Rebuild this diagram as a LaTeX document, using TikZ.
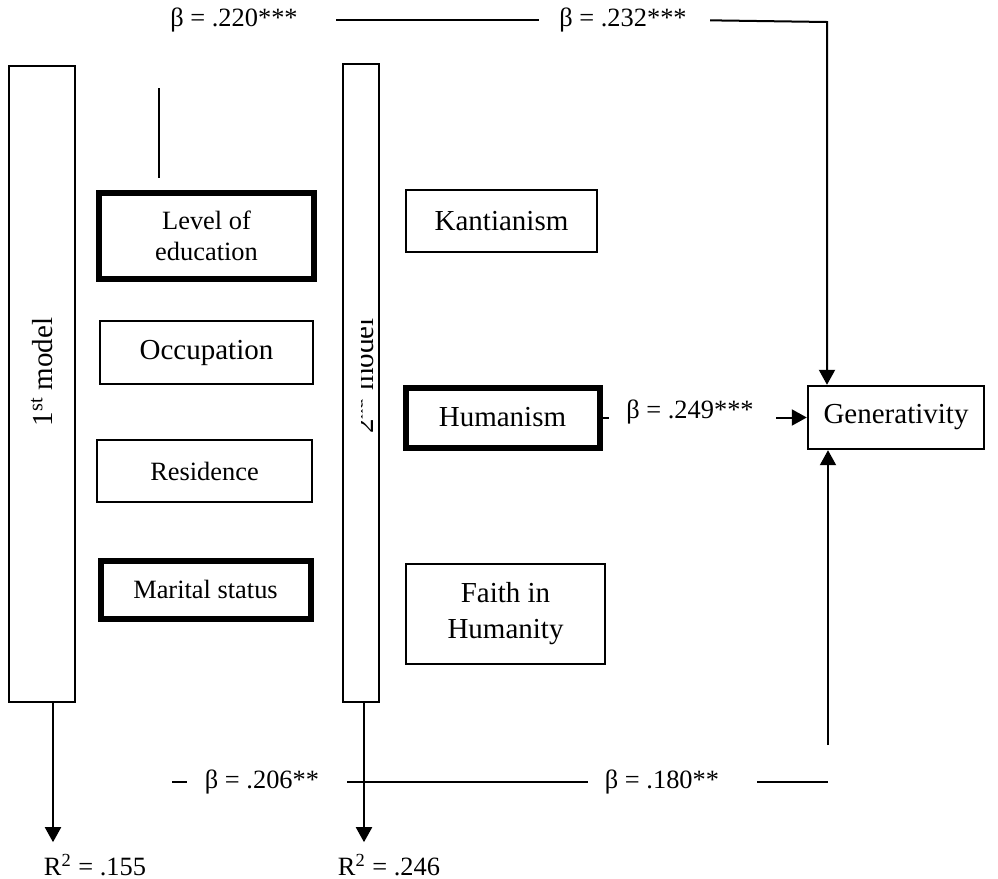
\documentclass[tikz,border=0pt]{standalone}
\usepackage{fontspec}
\setmainfont{Liberation Serif}
\usetikzlibrary{arrows.meta}

\newcommand{\bigtxt}{\fontsize{14.5}{18}\selectfont}
\newcommand{\smalltxt}{\fontsize{13.2}{15.5}\selectfont}

\begin{document}
\begin{tikzpicture}[x=0.5pt, y=-0.5pt,
    every node/.style={inner sep=0pt, font=\bigtxt},
    var/.style={draw, line width=1.2pt, align=center},
    heavy/.style={line width=3pt},
    small/.style={font=\smalltxt},
    link/.style={line width=1pt},
    tip/.style={-{Triangle[width=8pt, length=7.5pt]}}]
    \useasboundingbox (0, 0) rectangle (998, 879);

    \node[var, minimum width=33pt, minimum height=318pt] (m1) at (42, 384) {};
    \node[rotate=90] (m1txt) at (42, 372) {1\textsuperscript{st} model};

    \node[var, small, heavy, minimum width=107.5pt, minimum height=43pt] (edu) at (206.5, 236) {Level of\\education};
    \node[var, minimum width=106.5pt, minimum height=31.5pt] (occ) at (206.5, 352.5) {Occupation};
    \node[var, small, minimum width=107.5pt, minimum height=31pt] (res) at (204.5, 471) {Residence};
    \node[var, small, heavy, minimum width=105pt, minimum height=29pt] (mar) at (205.5, 589.5) {Marital status};

    \node[var, minimum width=18pt, minimum height=319pt] (m2) at (361, 383) {};
    \begin{scope}
        \clip (361, 63) rectangle (378, 703);
        \node[rotate=90, anchor=base] (m2txt) at (373, 376) {2\textsuperscript{nd} model};
    \end{scope}

    \node[var, minimum width=95.5pt, minimum height=31pt] (kant) at (501.5, 221) {Kantianism};
    \node[var, heavy, minimum width=97pt, minimum height=30pt] (hum) at (502.5, 417.5) {Humanism};
    \node[var, minimum width=99.5pt, minimum height=50pt] (faith) at (505.5, 614) {Faith in\\Humanity};
    \node[var, minimum width=88pt, minimum height=31.5pt] (gen) at (896, 417.5) {Generativity};

    \node[small] (b220) at (234, 20) {β = .220***};
    \node[small] (b232) at (623, 20) {β = .232***};
    \node[small] (b249) at (690, 412) {β = .249***};
    \node[small] (b206) at (262, 782) {β = .206**};
    \node[small] (b180) at (662, 782) {β = .180**};
    \node[small] (r155) at (95, 865) {R\textsuperscript{2} = .155};
    \node[small] (r246) at (389, 865) {R\textsuperscript{2} = .246};

    \coordinate (topturn) at (827, 22);
    \coordinate (botturn) at (828, 745);
    \coordinate (edutop) at (159, 88);

    \draw[link, shorten <=19pt, shorten >=10pt] (b220.east) -- (b232.west);
    \draw[link, tip, shorten <=11.5pt] (b232.east) -- (topturn) -- (topturn |- gen.north);
    \draw[link, shorten >=6pt] (edutop) -- (edutop |- edu.north);
    \draw[link] (hum.east) -- ++(6, 0);
    \draw[link, tip, shorten <=11pt] (b249.east |- gen.west) -- (gen.west);
    \draw[link, tip] (botturn) -- (botturn |- gen.south);
    \draw[link, shorten <=9pt] (b206.west) -- ++(-33, 0);
    \draw[link, shorten <=14pt, shorten >=8.5pt] (b206.east) -- (b180.west);
    \draw[link, shorten <=19pt] (b180.east) -- (b180.east -| botturn);
    \draw[link, tip] ([xshift=5.5pt]m1.south) -- ++(0, 139);
    \draw[link, tip] ([xshift=1.5pt]m2.south) -- ++(0, 139);
\end{tikzpicture}
\end{document}
